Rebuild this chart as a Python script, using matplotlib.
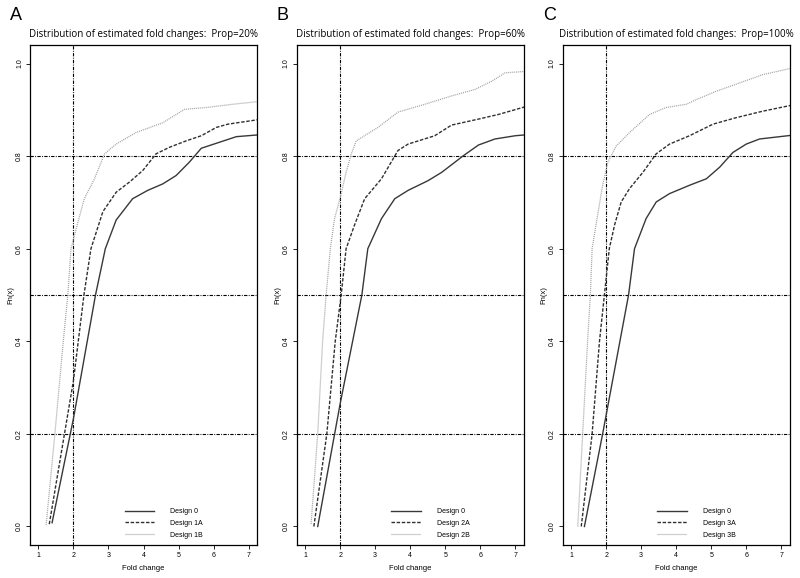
import numpy as np
import matplotlib
matplotlib.use("Agg")
import matplotlib.pyplot as plt

plt.rcParams['font.family'] = ['Liberation Sans', 'DejaVu Sans']

# panel A (Prop=20%)
a_x0 = [1.39, 2.0, 2.63, 2.91, 3.22, 3.69, 4.12, 4.55, 4.93, 5.31, 5.65, 6.17, 6.65, 7.3]
a_y0 = [0.008, 0.233, 0.5, 0.6, 0.662, 0.708, 0.726, 0.74, 0.758, 0.787, 0.817, 0.83, 0.842, 0.846]
a_xa = [1.31, 2.0, 2.3, 2.5, 2.84, 3.22, 3.6, 3.98, 4.36, 4.74, 5.22, 5.65, 6.08, 6.41, 7.3]
a_ya = [0.005, 0.315, 0.5, 0.6, 0.68, 0.722, 0.744, 0.769, 0.805, 0.819, 0.833, 0.844, 0.862, 0.869, 0.879]
a_xb = [1.22, 1.47, 1.71, 1.84, 1.93, 2.12, 2.31, 2.6, 2.89, 3.22, 3.79, 4.55, 5.17, 5.79, 6.55, 7.3]
a_yb = [0.003, 0.2, 0.4, 0.5, 0.6, 0.655, 0.708, 0.751, 0.805, 0.826, 0.851, 0.872, 0.901, 0.905, 0.912, 0.918]

# panel B (Prop=60%)
b_x0 = [1.36, 2.0, 2.62, 2.79, 3.18, 3.56, 3.94, 4.51, 4.9, 5.52, 5.95, 6.42, 7.0, 7.3]
b_y0 = [0.0, 0.265, 0.5, 0.6, 0.665, 0.708, 0.726, 0.747, 0.765, 0.801, 0.824, 0.837, 0.844, 0.846]
b_xa = [1.25, 1.62, 1.86, 2.03, 2.17, 2.41, 2.7, 3.18, 3.65, 3.94, 4.7, 5.18, 5.95, 6.52, 7.3]
b_ya = [0.0, 0.2, 0.4, 0.5, 0.6, 0.651, 0.708, 0.751, 0.812, 0.826, 0.844, 0.867, 0.88, 0.89, 0.907]
b_xb = [1.17, 1.36, 1.5, 1.6, 1.72, 1.84, 2.01, 2.17, 2.32, 2.46, 3.08, 3.65, 4.42, 5.18, 5.85, 6.33, 6.71, 7.3]
b_yb = [0.005, 0.2, 0.4, 0.5, 0.6, 0.665, 0.712, 0.765, 0.805, 0.833, 0.862, 0.895, 0.912, 0.93, 0.944, 0.962, 0.98, 0.983]

# panel C (Prop=100%)
c_x0 = [1.38, 1.9, 2.64, 2.81, 3.14, 3.43, 3.81, 4.38, 4.86, 5.24, 5.62, 6.0, 6.38, 7.3]
c_y0 = [0.0, 0.2, 0.5, 0.6, 0.665, 0.701, 0.719, 0.737, 0.751, 0.776, 0.808, 0.826, 0.837, 0.845]
c_xa = [1.29, 1.6, 1.81, 1.95, 2.09, 2.24, 2.43, 2.67, 3.05, 3.43, 3.81, 4.38, 5.05, 5.71, 6.47, 7.3]
c_ya = [0.0, 0.2, 0.4, 0.5, 0.6, 0.651, 0.701, 0.73, 0.765, 0.805, 0.826, 0.844, 0.869, 0.883, 0.897, 0.91]
c_xb = [1.19, 1.33, 1.47, 1.55, 1.6, 1.71, 1.9, 2.05, 2.29, 2.67, 3.24, 3.71, 4.29, 4.57, 5.14, 5.81, 6.47, 7.3]
c_yb = [0.0, 0.2, 0.4, 0.5, 0.6, 0.651, 0.737, 0.787, 0.822, 0.851, 0.89, 0.905, 0.912, 0.922, 0.94, 0.958, 0.976, 0.99]

panels = [
    ("A", "Prop=20%", ["Design 0", "Design 1A", "Design 1B"], (a_x0, a_y0), (a_xa, a_ya), (a_xb, a_yb)),
    ("B", "Prop=60%", ["Design 0", "Design 2A", "Design 2B"], (b_x0, b_y0), (b_xa, b_ya), (b_xb, b_yb)),
    ("C", "Prop=100%", ["Design 0", "Design 3A", "Design 3B"], (c_x0, c_y0), (c_xa, c_ya), (c_xb, c_yb)),
]
h_lines = [0.2, 0.5, 0.8]
v_line = 2
lefts_px = [30, 296.7, 562.7]

fig = plt.figure(figsize=(8, 5.78), dpi=100)
W, H = 800, 578
refdash = (3, 1.2, 0.8, 1.2)

for (letter, prop, labels, d0, da, db), lp in zip(panels, lefts_px):
    ax = fig.add_axes([lp / W, (H - 545) / H, 227 / W, 500 / H])
    for yv in h_lines:
        ax.axhline(yv, color="black", lw=0.8, dashes=refdash)
    ax.axvline(v_line, color="black", lw=0.8, dashes=refdash)
    ax.plot(d0[0], d0[1], color="#383838", lw=1.0, label=labels[0])
    ax.plot(da[0], da[1], color="#303030", lw=1.0, dashes=(2.5, 1.2), label=labels[1])
    ax.plot(db[0], db[1], color="#a0a0a0", lw=0.9, dashes=(0.8, 0.8), label=labels[2])
    ax.set_xlim(0.76, 7.24)
    ax.set_ylim(-0.04, 1.04)
    ax.set_xticks(range(1, 8))
    ax.set_yticks(np.arange(0, 1.01, 0.2))
    ax.set_yticklabels([f"{v:.1f}" for v in np.arange(0, 1.01, 0.2)], rotation=90, va="center")
    ax.tick_params(labelsize=5, length=3, width=0.6, pad=2)
    for s in ax.spines.values():
        s.set_linewidth(0.9)
    ax.set_xlabel("Fold change", fontsize=5.5, labelpad=4)
    ax.set_ylabel("Fn(x)", fontsize=5.5, labelpad=1)
    ax.legend(loc="lower left", bbox_to_anchor=(0.39, 0.0), frameon=False, fontsize=5,
              handlelength=4.2, handletextpad=2.3, labelspacing=0.7)
    ax.set_title(f"Distribution of estimated fold changes:  {prop}", fontsize=7.0,
                 fontfamily="Open Sans", pad=6)
    fig.text((lp - 20) / W, 1 - 15 / H, letter, fontsize=13, va="center", ha="left")

fig.savefig("out.png", dpi=100)
